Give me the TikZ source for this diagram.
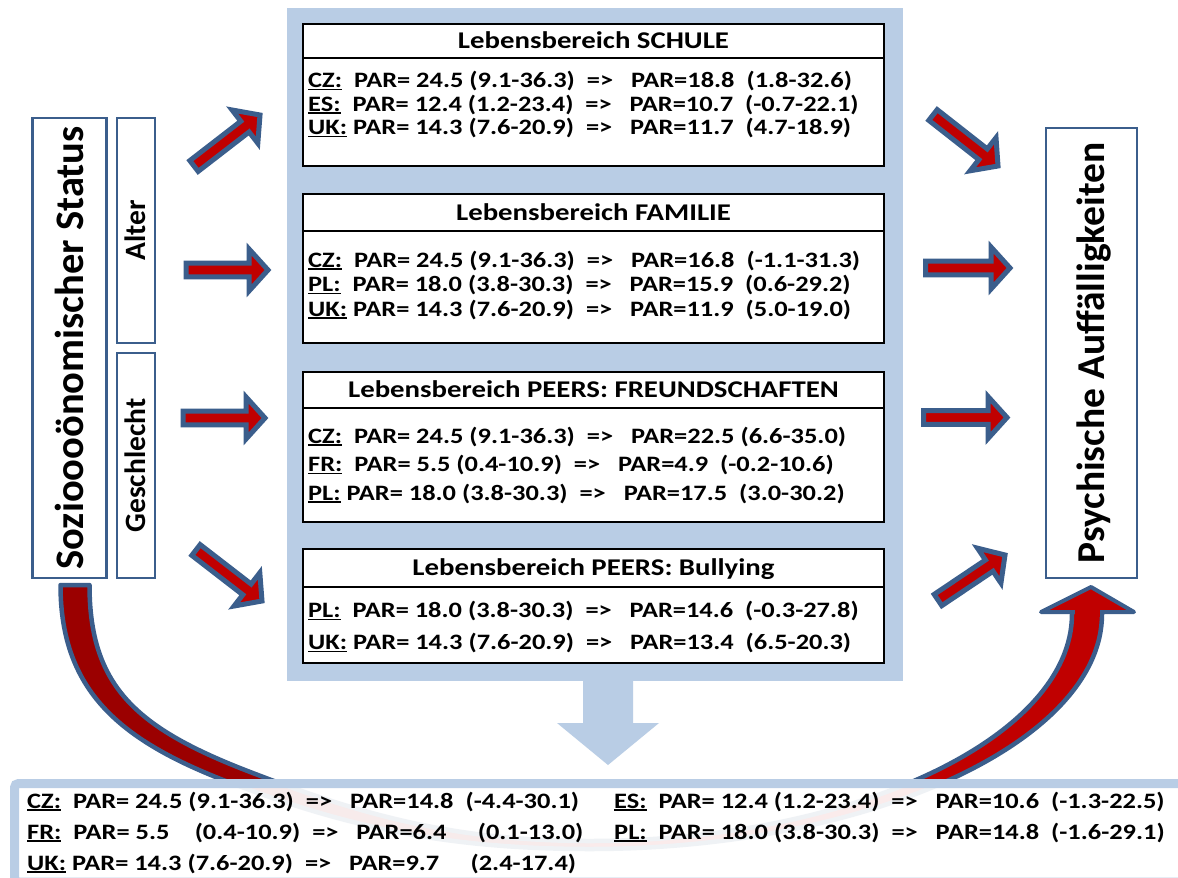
\documentclass[tikz,border=0pt]{standalone}
\usepackage{fontspec}
\setmainfont{Carlito}
\newfontfamily\panelfont{Carlito}[FakeStretch=1.2]
\usetikzlibrary{calc}

\definecolor{panelblue}{RGB}{185,205,229}
\definecolor{edgeblue}{RGB}{59,94,140}
\definecolor{arrowred}{RGB}{192,0,0}
\definecolor{backred}{RGB}{155,0,0}

% underlined country code
\newcommand{\cc}[1]{\setbox0\hbox{#1}\rlap{\rule[-2.8pt]{\wd0}{1.8pt}}\box0}

% block arrow from tail coordinate #1 to tip coordinate #2
\newcommand{\blockarrow}[2]{%
  \path ($(#2)!19pt!(#1)$) coordinate (#1-hb);
  \draw[blockarrow]
    ($(#1)!6.8pt!90:(#2)$) -- ($(#1-hb)!6.8pt!90:(#2)$) -- ($(#1-hb)!21pt!90:(#2)$)
    -- (#2) -- ($(#1-hb)!21pt!-90:(#2)$) -- ($(#1-hb)!6.8pt!-90:(#2)$)
    -- ($(#1)!6.8pt!-90:(#2)$) -- cycle;
}

\tikzset{
  blockarrow/.style={draw=edgeblue, fill=arrowred, line width=5pt, line join=miter},
  bandedge/.style={draw=edgeblue, line width=4.5pt, line join=round},
  hdr/.style={draw=black, line width=2.6pt, fill=white, minimum width=581pt,
    inner sep=0pt, text height=15pt, text depth=0pt,
    font=\panelfont\bfseries\fontsize{24pt}{28pt}\selectfont},
  bodybox/.style={draw=black, line width=2.6pt, fill=white, minimum width=581pt, inner sep=0pt},
  ln/.style={anchor=base west, inner sep=0pt,
    font=\panelfont\bfseries\fontsize{22pt}{26pt}\selectfont},
  sidebox/.style={draw=edgeblue, line width=2.6pt, fill=white, inner sep=0pt, rotate=90},
}

\begin{document}
\begin{tikzpicture}[x=1pt, y=-1pt]
\useasboundingbox (0,0) rectangle (1178,878);
\clip (0,0) rectangle (1178,878);
\fill[white] (0,0) rectangle (1178,878);

% curved arrow running under the summary box (tapering band)
\coordinate (lo0) at (60.5,585);  \coordinate (li0) at (89.5,585);
\coordinate (bo) at (590,849);    \coordinate (bi) at (590,841);
\coordinate (ro0) at (1102,614);  \coordinate (ri0) at (1072,614);
% back branch
\fill[backred] (lo0) .. controls (60.5,695) and (125,744) .. (239,786)
  .. controls (352,828) and (450,849) .. (bo) -- (bi)
  .. controls (450,841) and (356,813) .. (245,770)
  .. controls (135,727) and (89.5,685) .. (li0) -- cycle;
% front branch
\fill[arrowred] (bo) .. controls (868,849) and (1102,742) .. (ro0) -- (ri0)
  .. controls (1072,738) and (852,841) .. (bi) -- cycle;
\draw[bandedge] (bo) .. controls (450,849) and (352,828) .. (239,786)
  .. controls (125,744) and (60.5,695) .. (lo0) -- (li0)
  .. controls (89.5,685) and (135,727) .. (245,770)
  .. controls (356,813) and (450,841) .. (bi);
\draw[bandedge] (bo) .. controls (868,849) and (1102,742) .. (ro0);
\draw[bandedge] (bi) .. controls (852,841) and (1072,738) .. (ri0);
% arrow head
\draw[edgeblue, line width=4pt, fill=arrowred, line join=round]
  (1091,587) -- (1134,612) -- (1041,612) -- cycle;
\fill[arrowred] (1074.5,617) rectangle (1099.5,606);

% central panel with its downward arrow
\node[fill=panelblue, minimum width=616pt, minimum height=673pt, inner sep=0pt] (panel) at (595,344.5) {};
\fill[panelblue] (583,680) -- (633,680) -- (633,723) -- (659,723) -- (608,765) -- (557,723) -- (583,723) -- cycle;

% Lebensbereich SCHULE
\node[bodybox, minimum height=108pt] (b1) at (593.5,112) {};
\node[hdr, minimum height=34pt] (h1) at (593.5,41) {Lebensbereich SCHULE};
\node[ln] (l11) at (308,87.5) {\cc{CZ:}\ \ PAR= 24.5 (9.1-36.3)\ \ =>\ \ \ PAR=18.8\ \ (1.8-32.6)};
\node[ln] (l12) at (308,111) {\cc{ES:}\ \ PAR= 12.4 (1.2-23.4)\ \ =>\ \ \ PAR=10.7\ \ (-0.7-22.1)};
\node[ln] (l13) at (308,134.5) {\cc{UK:}\ PAR= 14.3 (7.6-20.9)\ \ =>\ \ \ PAR=11.7\ \ (4.7-18.9)};

% Lebensbereich FAMILIE
\node[bodybox, minimum height=112pt] (b2) at (593.5,287) {};
\node[hdr, minimum height=37pt] (h2) at (593.5,212.5) {Lebensbereich FAMILIE};
\node[ln] (l21) at (308,267) {\cc{CZ:}\ \ PAR= 24.5 (9.1-36.3)\ \ =>\ \ \ PAR=16.8\ \ (-1.1-31.3)};
\node[ln] (l22) at (308,291.5) {\cc{PL:}\ \ PAR= 18.0 (3.8-30.3)\ \ =>\ \ \ PAR=15.9\ \ (0.6-29.2)};
\node[ln] (l23) at (308,316) {\cc{UK:}\ PAR= 14.3 (7.6-20.9)\ \ =>\ \ \ PAR=11.9\ \ (5.0-19.0)};

% Lebensbereich PEERS: FREUNDSCHAFTEN
\node[bodybox, minimum height=114pt] (b3) at (593.5,465) {};
\node[hdr, minimum height=36pt] (h3) at (593.5,390) {Lebensbereich PEERS: FREUNDSCHAFTEN};
\node[ln] (l31) at (308,443) {\cc{CZ:}\ \ PAR= 24.5 (9.1-36.3)\ \ =>\ \ \ PAR=22.5 (6.6-35.0)};
\node[ln] (l32) at (308,471.5) {\cc{FR:}\ \ PAR= 5.5 (0.4-10.9)\ \ =>\ \ \ PAR=4.9\ \ (-0.2-10.6)};
\node[ln] (l33) at (308,500) {\cc{PL:}\ PAR= 18.0 (3.8-30.3)\ \ =>\ \ \ PAR=17.5\ \ (3.0-30.2)};

% Lebensbereich PEERS: Bullying
\node[bodybox, minimum height=76pt] (b4) at (593.5,625) {};
\node[hdr, minimum height=38pt] (h4) at (593.5,568) {Lebensbereich PEERS: Bullying};
\node[ln] (l41) at (308,617.5) {\cc{PL:}\ \ PAR= 18.0 (3.8-30.3)\ \ =>\ \ \ PAR=14.6\ \ (-0.3-27.8)};
\node[ln] (l42) at (308,649.5) {\cc{UK:}\ PAR= 14.3 (7.6-20.9)\ \ =>\ \ \ PAR=13.4\ \ (6.5-20.3)};

% side boxes
\node[sidebox, minimum width=460pt, minimum height=74pt, text height=27pt, text depth=0pt,
  font=\bfseries\fontsize{40.5pt}{48pt}\selectfont] (ses) at (69.5,348) {Sozioooönomischer Status};
\node[sidebox, minimum width=225pt, minimum height=38pt, text height=19pt, text depth=0pt,
  font=\bfseries\fontsize{29.5pt}{34pt}\selectfont] (alter) at (136,230.5) {Alter};
\node[sidebox, minimum width=225pt, minimum height=38pt, text height=19pt, text depth=0pt,
  font=\bfseries\fontsize{29.5pt}{34pt}\selectfont] (geschl) at (136,465.5) {Geschlecht};
\node[sidebox, minimum width=450pt, minimum height=91pt, text height=25.4pt, text depth=0pt,
  font=\bfseries\fontsize{39.5pt}{46pt}\selectfont] (psych) at (1091.5,353) {Psychische Auffälligkeiten};

% block arrows into the panel
\coordinate (a1t) at (194,166);   \coordinate (a1e) at (260,115);
\coordinate (a2t) at (186,270);   \coordinate (a2e) at (268,270);
\coordinate (a3t) at (183,418);   \coordinate (a3e) at (265,418);
\coordinate (a4t) at (196,550);   \coordinate (a4e) at (262,601);
\blockarrow{a1t}{a1e}
\blockarrow{a2t}{a2e}
\blockarrow{a3t}{a3e}
\blockarrow{a4t}{a4e}

% block arrows out of the panel
\coordinate (b1t) at (933,115);   \coordinate (b1e) at (998,166);
\coordinate (b2t) at (925.5,268); \coordinate (b2e) at (1010,268);
\coordinate (b3t) at (923.5,417.5); \coordinate (b3e) at (1007,417.5);
\coordinate (b4t) at (938,600);   \coordinate (b4e) at (1005,555);
\blockarrow{b1t}{b1e}
\blockarrow{b2t}{b2e}
\blockarrow{b3t}{b3e}
\blockarrow{b4t}{b4e}

% summary box
\node[draw=panelblue, line width=9pt, fill=white, fill opacity=0.92, rounded corners=4pt,
  minimum width=1185.5pt, minimum height=98.5pt, inner sep=0pt] (summary) at (607.25,832.75) {};
\node[ln] (s1) at (27,808) {\cc{CZ:}\ \ PAR= 24.5 (9.1-36.3)\ \ =>\ \ \ PAR=14.8\ \ (-4.4-30.1)};
\node[ln] (s2) at (27,839) {\cc{FR:}\ \ PAR= 5.5\hphantom{0}\ \ (0.4-10.9)\ \ =>\ \ \ PAR=6.4\hphantom{0}\ \ \ (0.1-13.0)};
\node[ln] (s3) at (27,870) {\cc{UK:}\ PAR= 14.3 (7.6-20.9)\ \ =>\ \ \ PAR=9.7\hphantom{0}\ \ \ (2.4-17.4)};
\node[ln] (s4) at (614,808) {\cc{ES:}\ \ PAR= 12.4 (1.2-23.4)\ \ =>\ \ \ PAR=10.6\ \ (-1.3-22.5)};
\node[ln] (s5) at (614,839) {\cc{PL:}\ \ PAR= 18.0 (3.8-30.3)\ \ =>\ \ \ PAR=14.8\ \ (-1.6-29.1)};
\end{tikzpicture}
\end{document}
